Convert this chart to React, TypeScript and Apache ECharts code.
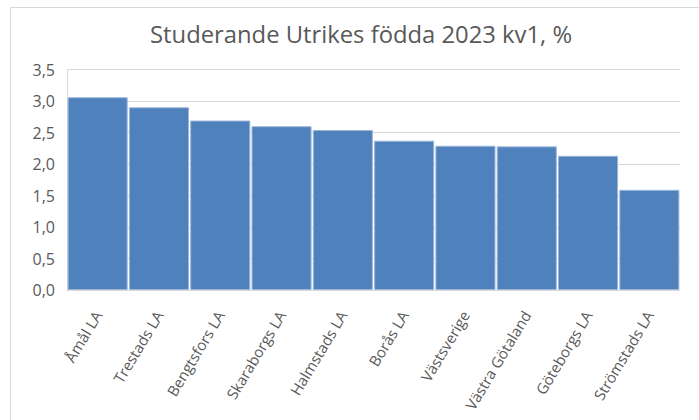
import React, { useEffect, useRef } from "react";
import * as echarts from "echarts";

const titleText = "Studerande Utrikes födda 2023 kv1, %";
const categories = [
  "Åmål LA",
  "Trestads LA",
  "Bengtsfors LA",
  "Skaraborgs LA",
  "Halmstads LA",
  "Borås LA",
  "Västsverige",
  "Västra Götaland",
  "Göteborgs LA",
  "Strömstads LA",
];
const values = [3.06, 2.9, 2.69, 2.6, 2.54, 2.37, 2.29, 2.28, 2.13, 1.59];

export default function App() {
  const ref = useRef<HTMLDivElement>(null);
  useEffect(() => {
    if (!ref.current) return;
    const chart = echarts.init(ref.current, null, { renderer: "svg" });
    const font = "'Open Sans', 'Liberation Sans', sans-serif";
    chart.setOption({
      animation: false,
      backgroundColor: "#ffffff",
      title: {
        text: titleText,
        left: 145,
        top: 17,
        textStyle: {
          fontFamily: font,
          fontSize: 23.8,
          fontWeight: "normal",
          color: "#595959",
        },
      },
      graphic: [
        {
          type: "rect",
          shape: { x: 10.5, y: 7.5, width: 720, height: 440 },
          style: { fill: "none", stroke: "#D9D9D9", lineWidth: 1 },
          silent: true,
        },
      ],
      grid: { left: 67, right: 19, top: 69.5, bottom: 130 },
      xAxis: {
        type: "category",
        data: categories,
        axisLine: { show: true, lineStyle: { color: "#D9D9D9" } },
        axisTick: { show: false },
        axisLabel: {
          rotate: 59,
          interval: 0,
          margin: 22,
          verticalAlign: "middle",
          fontFamily: font,
          fontSize: 15,
          color: "#595959",
        },
      },
      yAxis: {
        type: "value",
        min: 0,
        max: 3.5,
        interval: 0.5,
        axisLine: { show: true, lineStyle: { color: "#D9D9D9" } },
        axisTick: { show: false },
        splitLine: { lineStyle: { color: "#D9D9D9", width: 1 } },
        axisLabel: {
          margin: 12,
          fontFamily: font,
          fontSize: 16,
          color: "#595959",
          formatter: (v: number) => v.toFixed(1).replace(".", ","),
        },
      },
      series: [
        {
          type: "bar",
          data: values,
          barCategoryGap: "2%",
          itemStyle: {
            color: "#4F81BD",
            borderColor: "#9DB6DA",
            borderWidth: 1,
          },
        },
      ],
    });
    return () => chart.dispose();
  }, []);
  return (
    <div
      ref={ref}
      style={{ position: "fixed", left: 0, top: 0, width: 699, height: 420 }}
    />
  );
}
